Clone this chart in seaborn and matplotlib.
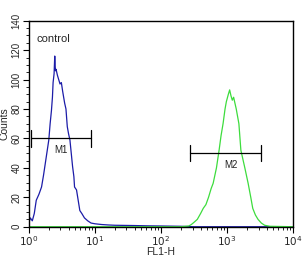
import numpy as np
import pandas as pd
import matplotlib
matplotlib.use("Agg")
import matplotlib.pyplot as plt
import matplotlib.ticker as mticker
import seaborn as sns

# Control (blue) histogram: FL1-H decade exponent and counts
ctrl_exp = [0.0, 0.02, 0.05, 0.08, 0.11, 0.15, 0.19, 0.22, 0.24, 0.27, 0.30, 0.32, 0.34,
            0.355, 0.365, 0.38, 0.39, 0.40, 0.41, 0.43, 0.45, 0.47, 0.49, 0.51, 0.54,
            0.56, 0.58, 0.60, 0.62, 0.64, 0.66, 0.68, 0.69, 0.72, 0.77, 0.80, 0.84,
            0.89, 0.94, 1.0, 1.1, 1.2, 1.3, 1.45, 1.6, 1.8, 2.0, 2.15, 2.3, 2.5, 3.0, 3.5, 4.0]
ctrl_cnt = [3, 6, 4, 9, 18, 22, 27, 35, 41, 50, 59, 70, 79,
            88, 98, 104, 116, 106, 107, 103, 100, 97, 98, 92, 84,
            80, 68, 63, 59, 50, 41, 34, 27, 25, 11, 9, 6,
            4, 2.5, 2, 1.5, 1.2, 1, 0.9, 0.8, 0.6, 0.5, 0.4, 0.3, 0, 0, 0, 0]

# Antibody (green) histogram
ab_exp = [0.0, 1.0, 2.0, 2.3, 2.42, 2.46, 2.5, 2.55, 2.6, 2.64, 2.68, 2.72, 2.76, 2.79,
          2.84, 2.88, 2.91, 2.94, 2.97, 2.99, 3.02, 3.04, 3.06, 3.08, 3.10, 3.12,
          3.14, 3.18, 3.21, 3.24, 3.27, 3.32, 3.36, 3.39, 3.43, 3.47, 3.52, 3.57, 3.65, 4.0]
ab_cnt = [0, 0, 0, 0, 0.5, 1.5, 3, 5, 9, 12.5, 15, 20, 26, 29.5,
          40, 52, 62, 70, 80, 85, 90, 93, 89, 86, 88, 84,
          80, 70, 52, 46, 40, 29.5, 20, 12.5, 8, 5, 2.5, 1, 0.3, 0]

# Markers
m1_range = [1.09, 8.6]
m1_level = 60
m2_range = [278, 3250]
m2_level = 50

y_ticks = [0, 20, 40, 60, 80, 100, 120, 140]
x_decades = [0, 1, 2, 3, 4]

sns.set_theme(style="white")
plt.rcParams['font.family'] = ['Liberation Sans', 'DejaVu Sans']

df = pd.concat([
    pd.DataFrame({"FL1-H": 10 ** np.array(ctrl_exp), "Counts": ctrl_cnt, "s": "control"}),
    pd.DataFrame({"FL1-H": 10 ** np.array(ab_exp), "Counts": ab_cnt, "s": "antibody"}),
])

fig = plt.figure(figsize=(3.05, 2.68), dpi=100)
ax = fig.add_axes([0.0951, 0.154, 0.8656, 0.7686])

sns.lineplot(data=df, x="FL1-H", y="Counts", hue="s", sort=False,
             palette={"control": "#1c1ca8", "antibody": "#3ddc3d"},
             linewidth=0.9, legend=False, ax=ax, estimator=None)

ax.set_xscale("log")
ax.set_xlim(1, 10 ** 4)
ax.set_ylim(0, 140)

for rng, lvl, name in [(m1_range, m1_level, "M1"), (m2_range, m2_level, "M2")]:
    ax.plot(rng, [lvl, lvl], color="black", lw=0.9)
    for xe in rng:
        ax.plot([xe, xe], [lvl - 5.5, lvl + 5.5], color="black", lw=0.9)
    xc = np.sqrt(rng[0] * rng[1]) * (1.2 if name == "M2" else 1.0)
    ax.text(xc, lvl - 8, name, ha="center", va="center", fontsize=7, color="#222222")

ax.text(0.03, 0.91, "control", transform=ax.transAxes, fontsize=8, ha="left", va="center")

ax.set_xticks([10 ** d for d in x_decades])
ax.set_xticklabels([r"$10^{%d}$" % d for d in x_decades], fontsize=7.5)
ax.xaxis.set_minor_locator(mticker.LogLocator(base=10, subs=np.arange(2, 10), numticks=20))
ax.xaxis.set_minor_formatter(mticker.NullFormatter())
ax.set_yticks(y_ticks)
ax.set_yticklabels([str(v) for v in y_ticks], fontsize=7, rotation=90, va="center")
ax.yaxis.set_minor_locator(mticker.MultipleLocator(5))

ax.tick_params(which="major", direction="out", length=4, width=0.8, color="black",
               bottom=True, left=True, pad=1.5)
ax.tick_params(which="minor", direction="out", length=2.5, width=0.6, color="black",
               bottom=True, left=True)

ax.set_xlabel("FL1-H", fontsize=7.5, labelpad=-1)
ax.set_ylabel("Counts", fontsize=7.5, labelpad=1)

for s in ax.spines.values():
    s.set_color("black")
    s.set_linewidth(1.0)

fig.savefig("out.png", dpi=100)
